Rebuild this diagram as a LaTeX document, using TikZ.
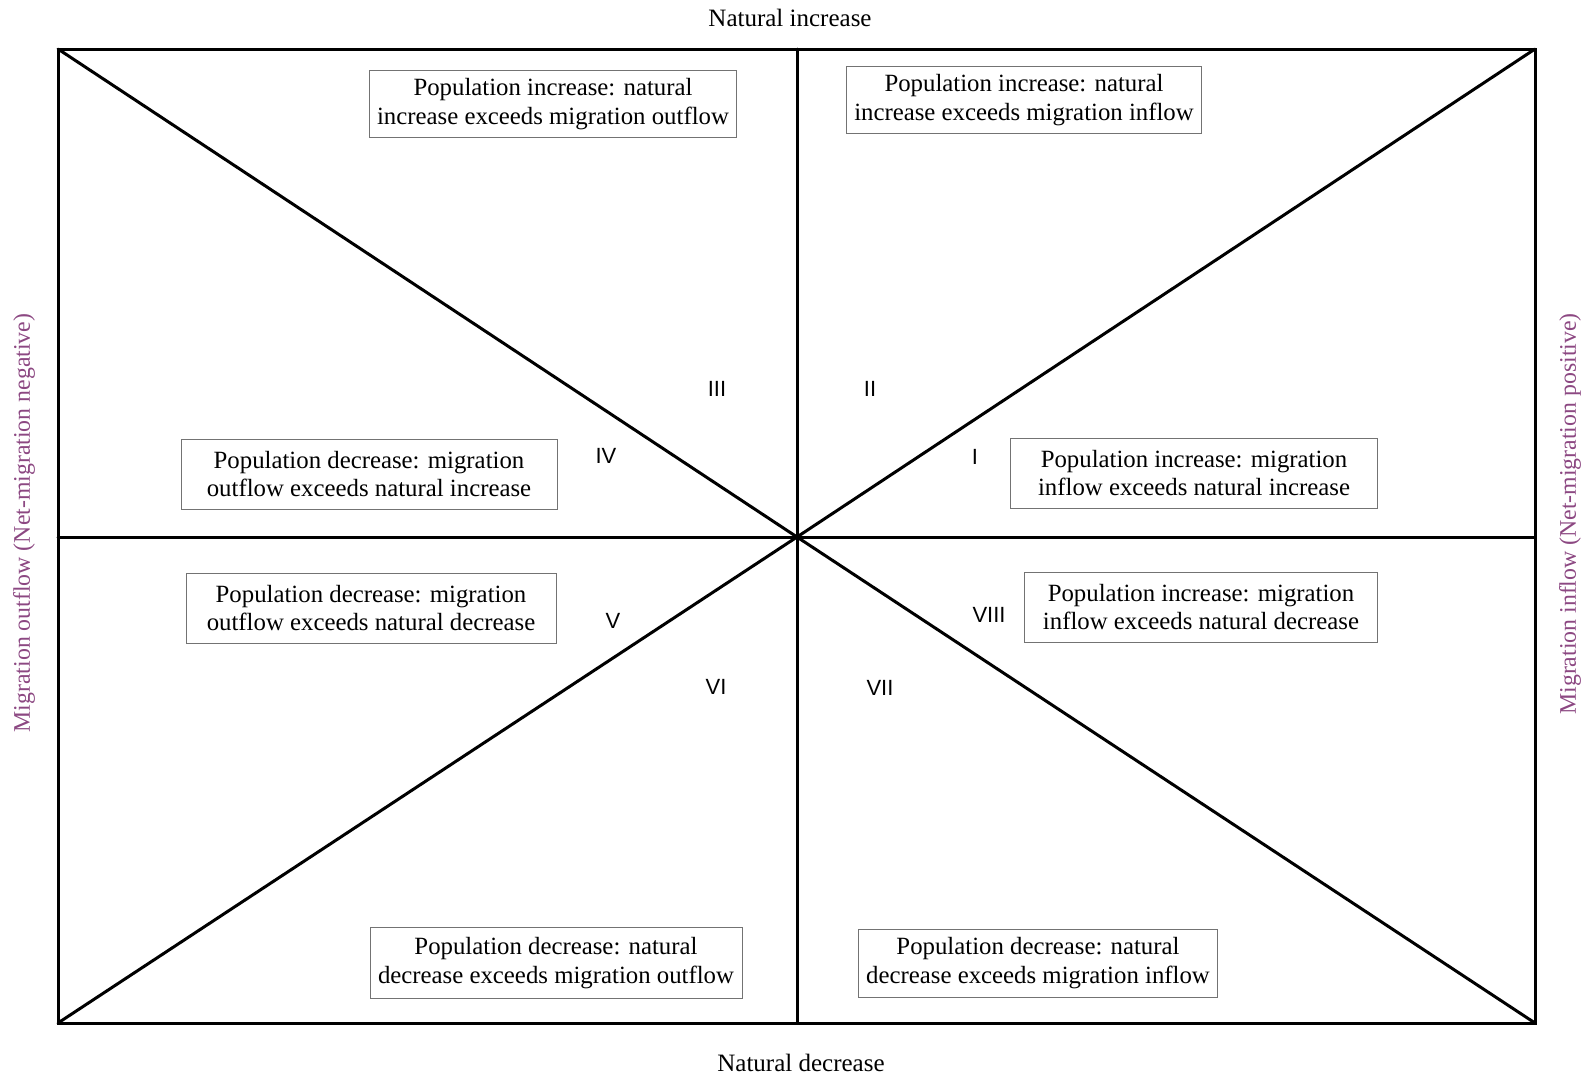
\documentclass[tikz,border=0pt]{standalone}
\usepackage{fontspec}
\setmainfont{Liberation Serif}
\newfontfamily\numfont{Liberation Sans}
\usetikzlibrary{positioning}
\definecolor{sidepurple}{RGB}{140,72,130}

\begin{document}
\begin{tikzpicture}[x=0.5pt,y=-0.5pt,
		frame/.style={line width=1.5pt,line cap=round},
		casebox/.style={draw=black!55,line width=0.5pt,inner sep=4pt,align=center,font=\fontsize{12.4}{14.2}\selectfont},
		midbox/.style={casebox,minimum height=35pt},
		sector/.style={font=\numfont\fontsize{11}{13}\selectfont},
		axislabel/.style={font=\fontsize{12.5}{14}\selectfont},
		sidelabel/.style={font=\fontsize{11.9}{14}\selectfont,text=sidepurple,rotate=90}]
		\useasboundingbox (0,0) rectangle (1591,1077);

		% frame and centre
		\coordinate (tl) at (58,49);
		\coordinate (tr) at (1535,49);
		\coordinate (bl) at (58,1023);
		\coordinate (br) at (1535,1023);
		\coordinate (tm) at (797,49);
		\coordinate (bm) at (797,1023);
		\coordinate (lm) at (58,537);
		\coordinate (rm) at (1535,537);
		\coordinate (c) at (797,537);

		\draw[frame] (tl) rectangle (br);
		\draw[frame] (tm) -- (bm);
		\draw[frame] (lm) -- (rm);
		\draw[frame] (tl) -- (c) -- (br);
		\draw[frame] (bl) -- (c) -- (tr);

		% axis labels
		\node[axislabel] (natinc) at (790,18) {Natural increase};
		\node[axislabel] (natdec) at (801,1063) {Natural decrease};
		\node[sidelabel] (outflow) at (24,523) {Migration outflow (Net-migration negative)};
		\node[sidelabel] (inflow) at (1570,514) {Migration inflow (Net-migration positive)};

		% sectors
		\node[sector] (s1) at (975,457) {I};
		\node[sector] (s2) at (870,389) {II};
		\node[sector] (s3) at (717,389) {III};
		\node[sector] (s4) at (606,456) {IV};
		\node[sector] (s5) at (613,621) {V};
		\node[sector] (s6) at (716,687) {VI};
		\node[sector] (s7) at (880,688) {VII};
		\node[sector] (s8) at (989,615) {VIII};

		% descriptions
		\node[casebox] (b3) at (553,104) {Population increase: natural\\increase exceeds migration outflow};
		\node[casebox] (b2) at (1024,100) {Population increase: natural\\increase exceeds migration inflow};
		\node[midbox,minimum width=188pt] (b4) at (369,474) {Population decrease: migration\\outflow exceeds natural increase};
		\node[midbox,minimum width=183.5pt] (b1) at (1194,473) {Population increase: migration\\inflow exceeds natural increase};
		\node[midbox,minimum width=185pt] (b5) at (371,608) {Population decrease: migration\\outflow exceeds natural decrease};
		\node[midbox,minimum width=176.5pt] (b8) at (1201,607) {Population increase: migration\\inflow exceeds natural decrease};
		\node[casebox,minimum height=35.5pt] (b6) at (556,963) {Population decrease: natural\\decrease exceeds migration outflow};
		\node[casebox,minimum height=34pt] (b7) at (1038,963) {Population decrease: natural\\decrease exceeds migration inflow};
	\end{tikzpicture}
\end{document}
